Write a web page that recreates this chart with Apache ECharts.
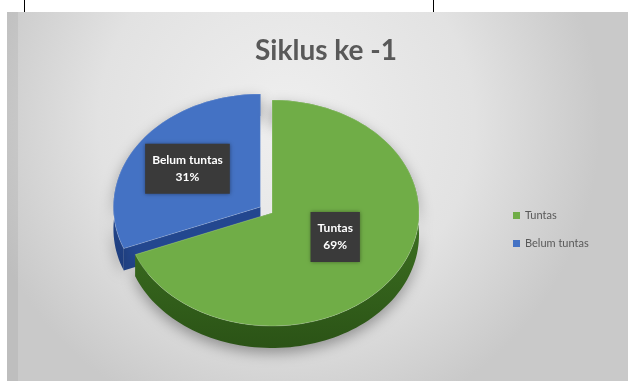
<!DOCTYPE html>
<html>
<head>
<meta charset="utf-8">
<script src="https://cdn.jsdelivr.net/npm/echarts@6/dist/echarts.min.js"></script>
<style>html,body{margin:0;padding:0;background:#fff}#c{width:628px;height:381px}</style>
</head>
<body>
<div id="c"></div>
<script>
// ---- data ----
const categories = ['Tuntas', 'Belum tuntas'];
const values = [69, 31];
const titleText = 'Siklus ke -1';

// ---- style / layout ----
const topColors = ['#70ad47', '#4472c4'];
const sideColors = [['#4c8a2b', '#2b5316'], ['#2f5aac', '#1d3c7c']];
const cutColors = ['#3f7524', '#23478f'];
const explode = [0, 14];
const labelK = [0.52, 0.6];
const labelDy = [-9, 0];
const CX = 272, CY = 213, RX = 147, RY = 113, DEPTH = 22;
const FONT = 'Lato, "Open Sans", sans-serif';

const total = values.reduce((a, b) => a + b, 0);
const starts = [];
let acc = 0;
values.forEach(v => { starts.push(acc / total * 360); acc += v; });

function pt(cx, cy, deg, k, dy) {
  const r = deg * Math.PI / 180;
  return [cx + k * RX * Math.sin(r), cy - k * RY * Math.cos(r) + (dy || 0)];
}
function arc(cx, cy, a1, a2, dy) {
  const pts = [];
  const n = Math.max(8, Math.ceil((a2 - a1) / 2));
  for (let i = 0; i <= n; i++) pts.push(pt(cx, cy, a1 + (a2 - a1) * i / n, 1, dy));
  return pts;
}

function makeRender(idx) {
  return function (params, api) {
    const v = api.value(0);
    const a1 = starts[idx];
    const a2 = a1 + v / total * 360;
    const mid = (a1 + a2) / 2 * Math.PI / 180;
    const cx = CX + explode[idx] * Math.sin(mid);
    const cy = CY - explode[idx] * (RY / RX) * Math.cos(mid);
    const topArc = arc(cx, cy, a1, a2, 0);
    const botArc = arc(cx, cy, a1, a2, DEPTH).reverse();
    const p1 = pt(cx, cy, a1, 1), p2 = pt(cx, cy, a2, 1);
    const sc = sideColors[idx];
    const children = [
      { type: 'polygon', shape: { points: [[cx, cy], p1, [p1[0], p1[1] + DEPTH], [cx, cy + DEPTH]] },
        style: { fill: cutColors[idx] } },
      { type: 'polygon', shape: { points: [[cx, cy], p2, [p2[0], p2[1] + DEPTH], [cx, cy + DEPTH]] },
        style: { fill: cutColors[idx] } },
      { type: 'polygon', shape: { points: topArc.concat(botArc) },
        style: { fill: { type: 'linear', x: 0, y: 0, x2: 0, y2: 1,
          colorStops: [{ offset: 0, color: sc[0] }, { offset: 1, color: sc[1] }] },
          shadowBlur: 14, shadowColor: 'rgba(0,0,0,0.35)', shadowOffsetY: 5 } },
      { type: 'polygon', shape: { points: [[cx, cy]].concat(topArc) },
        style: { fill: topColors[idx], stroke: 'rgba(255,255,255,0.25)', lineWidth: 0.8 } }
    ];
    const lp = pt(cx, cy, (a1 + a2) / 2, labelK[idx], labelDy[idx]);
    children.push({
      type: 'text', x: lp[0], y: lp[1],
      style: {
        text: categories[idx] + '\n' + Math.round(v / total * 100) + '%',
        fill: '#ffffff', font: 'bold 12px ' + FONT, align: 'center', verticalAlign: 'middle',
        backgroundColor: '#3a3a3a', padding: [8, 7, 8, 7], lineHeight: 17,
        shadowBlur: 4, shadowColor: 'rgba(0,0,0,0.4)'
      }
    });
    return { type: 'group', children };
  };
}

const chart = echarts.init(document.getElementById('c'), null, { renderer: 'canvas' });
const order = [1, 0]; // draw back slice first
chart.setOption({
  animation: false,
  graphic: [
    { type: 'rect', z: -10, shape: { x: 7, y: 12, width: 621, height: 369 },
      style: { fill: { type: 'radial', x: 0.45, y: 0.3, r: 0.85,
        colorStops: [{ offset: 0, color: '#efefef' }, { offset: 0.6, color: '#e2e2e2' }, { offset: 1, color: '#c9c9c9' }] } } },
    { type: 'rect', z: -9, shape: { x: 7, y: 12, width: 11, height: 369 },
      style: { fill: 'rgba(0,0,0,0.05)' } },
    { type: 'line', z: -9, shape: { x1: 24.5, y1: 0, x2: 24.5, y2: 12 }, style: { stroke: '#000', lineWidth: 1 } },
    { type: 'line', z: -9, shape: { x1: 433.5, y1: 0, x2: 433.5, y2: 12 }, style: { stroke: '#000', lineWidth: 1 } }
  ],
  title: {
    text: titleText, left: 321, top: 32, textAlign: 'center',
    textStyle: { fontFamily: FONT, fontWeight: 'bold', fontSize: 28, color: '#595959' }
  },
  legend: {
    data: categories, orient: 'vertical', left: 508, top: 205,
    itemWidth: 7, itemHeight: 7, itemGap: 17, icon: 'rect',
    textStyle: { fontFamily: FONT, fontSize: 11, color: '#595959' }
  },
  series: order.map(i => ({
    type: 'custom', name: categories[i], coordinateSystem: 'none',
    itemStyle: { color: topColors[i] },
    data: [[values[i]]],
    renderItem: makeRender(i)
  }))
});
</script>
</body>
</html>
